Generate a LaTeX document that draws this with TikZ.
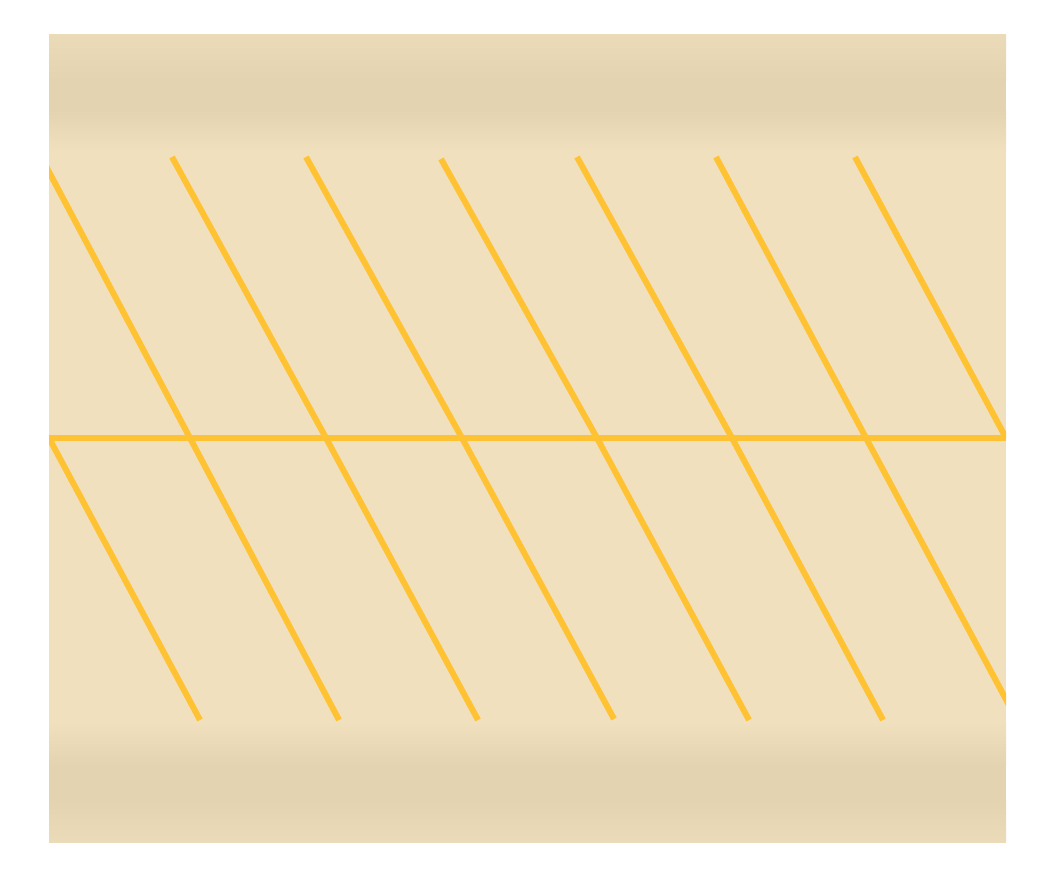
\documentclass[tikz,border=0pt]{standalone}
\definecolor{bgbase}{HTML}{F0E0BE}
\definecolor{bgdark}{HTML}{E3D3B0}
\definecolor{bone}{HTML}{FFC233}
\begin{document}
\begin{tikzpicture}[x=1pt,y=-1pt,
  boneline/.style={draw=bone,line width=6pt}]
\useasboundingbox (0,0) rectangle (1056,886);
\fill[bgbase] (49,34) rectangle (1006,842);
% top band
\shade[top color=bgbase!60!bgdark, bottom color=bgdark] (49,34) rectangle (1006,80);
\fill[bgdark] (49,80) rectangle (1006,110);
\shade[top color=bgdark, bottom color=bgbase] (49,110) rectangle (1006,152);
% bottom band
\shade[top color=bgbase, bottom color=bgdark] (49,722) rectangle (1006,765);
\fill[bgdark] (49,765) rectangle (1006,800);
\shade[top color=bgdark, bottom color=bgbase!60!bgdark] (49,800) rectangle (1006,842);
\begin{scope}
\clip (49,34) rectangle (1006,842);
% spine
\coordinate (s0) at (49,438);
\coordinate (s7) at (1006,438);
\draw[boneline] (s0) -- (s7);
% ribs
\draw[boneline] (30,136) -- (190,438) -- (339,720);
\draw[boneline] (172,157) -- (326,438) -- (478,720);
\draw[boneline] (306,157) -- (462,438) -- (614,719);
\draw[boneline] (441,159) -- (597,438) -- (749,720);
\draw[boneline] (577,157) -- (732,438) -- (883,720);
\draw[boneline] (716,157) -- (866,438) -- (1017,720);
\draw[boneline] (855,157) -- (1006,438);
\draw[boneline] (49,438) -- (200,720);
\end{scope}
\end{tikzpicture}
\end{document}
